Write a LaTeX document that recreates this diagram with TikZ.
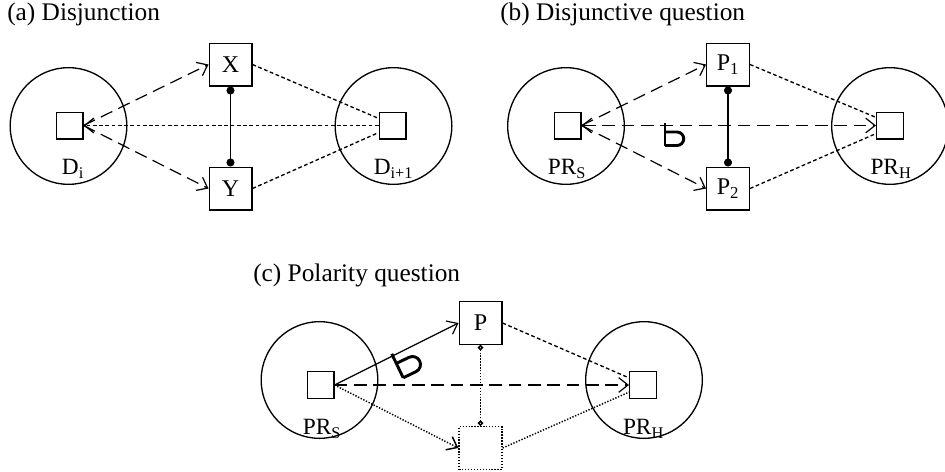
\documentclass[tikz,border=0pt]{standalone}
\usepackage{fontspec}
\setmainfont{Liberation Serif}
\usetikzlibrary{arrows.meta}
\begin{document}
\begin{tikzpicture}[x=0.75pt,y=-0.75pt,
  lw/.style={line width=0.9pt},
  circ/.style={draw, circle, minimum size=87.5pt, inner sep=0pt, line width=1pt},
  sq/.style={draw, rectangle, minimum size=20pt, inner sep=0pt, line width=1pt},
  bx/.style={draw, rectangle, minimum size=32pt, inner sep=0pt, line width=1pt, font=\fontsize{18}{18}\selectfont},
  dbx/.style={bx, line width=1.2pt, dash pattern=on 1pt off 1.2pt},
  lbl/.style={font=\fontsize{17.5}{17.5}\selectfont, inner sep=0pt},
  ttl/.style={font=\fontsize{19}{19}\selectfont, anchor=west, inner sep=0pt},
  symline/.style={line width=2.2pt},
  tip/.style={-{Straight Barb[length=7pt,width=11pt]}},
  twotip/.style={{Straight Barb[length=7pt,width=11pt]}-{Straight Barb[length=7pt,width=11pt]}},
  ldash/.style={dash pattern=on 9.5pt off 5pt, line width=0.9pt},
  sdash/.style={dash pattern=on 2.8pt off 1.9pt, line width=1pt},
  fdot/.style={dash pattern=on 1pt off 1.2pt, line width=1.1pt},
  dotends/.style={{Circle[length=6pt]}-{Circle[length=6pt]}},
  odotends/.style={{Circle[open,length=4pt]}-{Circle[open,length=4pt]}}
]
\useasboundingbox (0,0) rectangle (945,471);
\clip (0,0) rectangle (945,471);

% ---------- (a) ----------
\node[ttl] (ta) at (7,14.5) {(a) Disjunction};
\node[circ] (Ca) at (68.5,126) {};
\node[sq] (La) at (69.5,125.5) {};
\node[bx] (X) at (230.5,64.5) {X};
\node[bx] (Y) at (230.5,188.5) {Y};
\node[circ] (Cb) at (393.5,126) {};
\node[sq] (Ra) at (392.5,125.5) {};
\node[lbl] (Da) at (73,169) {D\textsubscript{i}};
\node[lbl] (Db) at (393.5,169) {D\textsubscript{i+1}};
\draw[ldash,tip] (La.east) -- (X.west);
\draw[ldash,tip] (La.east) -- (Y.west);
\draw[sdash,tip] (Ra.west) -- (La.east);
\draw[sdash] (X.east) -- (Ra.153);
\draw[sdash] (Y.east) -- (Ra.207);
\draw[line width=1pt,dotends] (X) -- (Y);

% ---------- (b) ----------
\node[ttl] (tb) at (500,14.5) {(b) Disjunctive question};
\node[circ] (Cc) at (566,126) {};
\node[sq] (Lb) at (567.5,125.5) {};
\node[bx] (P1) at (728,64.5) {P\textsubscript{1}};
\node[bx] (P2) at (728,188.5) {P\textsubscript{2}};
\node[circ] (Cd) at (890,126) {};
\node[sq] (Rb) at (890,125.5) {};
\node[lbl] (Sb) at (567,169) {PR\textsubscript{S}};
\node[lbl] (Hb) at (891,169) {PR\textsubscript{H}};
\draw[ldash,tip] (Lb.east) -- (P1.west);
\draw[ldash,tip] (Lb.east) -- (P2.west);
\draw[ldash,twotip] (Lb.east) -- (Rb.west);
\draw[sdash] (P1.east) -- (Rb.150);
\draw[sdash] (P2.east) -- (Rb.210);
\draw[line width=1pt,dotends] (P1) -- (P2);
\coordinate (qb) at (665,125.5);
\begin{scope}[shift={(qb)}]
  \draw[symline] (0,-2.5) -- (0,20);
  \draw[symline] (0,6.5) -- (12,6.5) arc(-90:90:6.75) -- (0,20);
\end{scope}

% ---------- (c) ----------
\node[ttl] (tc) at (253,275) {(c) Polarity question};
\node[circ] (Ce) at (319.5,380) {};
\node[sq] (Lc) at (320.5,385) {};
\node[bx] (P) at (480.5,323) {P};
\node[dbx] (Pd) at (480.5,448) {};
\node[circ] (Cf) at (644,380) {};
\node[sq] (Rc) at (643,385) {};
\node[lbl] (Sc) at (322,429) {PR\textsubscript{S}};
\node[lbl] (Hc) at (643.5,429) {PR\textsubscript{H}};
\draw[lw,tip] (Lc.east) -- (P.west);
\draw[ldash,tip] (Lc.east) -- (Rc.west);
\draw[fdot,tip] (Lc.east) -- (Pd.west);
\draw[sdash] (P.east) -- (Rc.153);
\draw[fdot] (Pd.east) -- (Rc.207);
\draw[fdot,odotends] (P) -- (Pd);
\coordinate (qc) at (393,356.5);
\begin{scope}[shift={(qc)}, rotate=25.6, scale=1.18]
  \draw[symline] (0,-2.5) -- (0,20);
  \draw[symline] (0,6.5) -- (12,6.5) arc(-90:90:6.75) -- (0,20);
\end{scope}
\end{tikzpicture}
\end{document}
